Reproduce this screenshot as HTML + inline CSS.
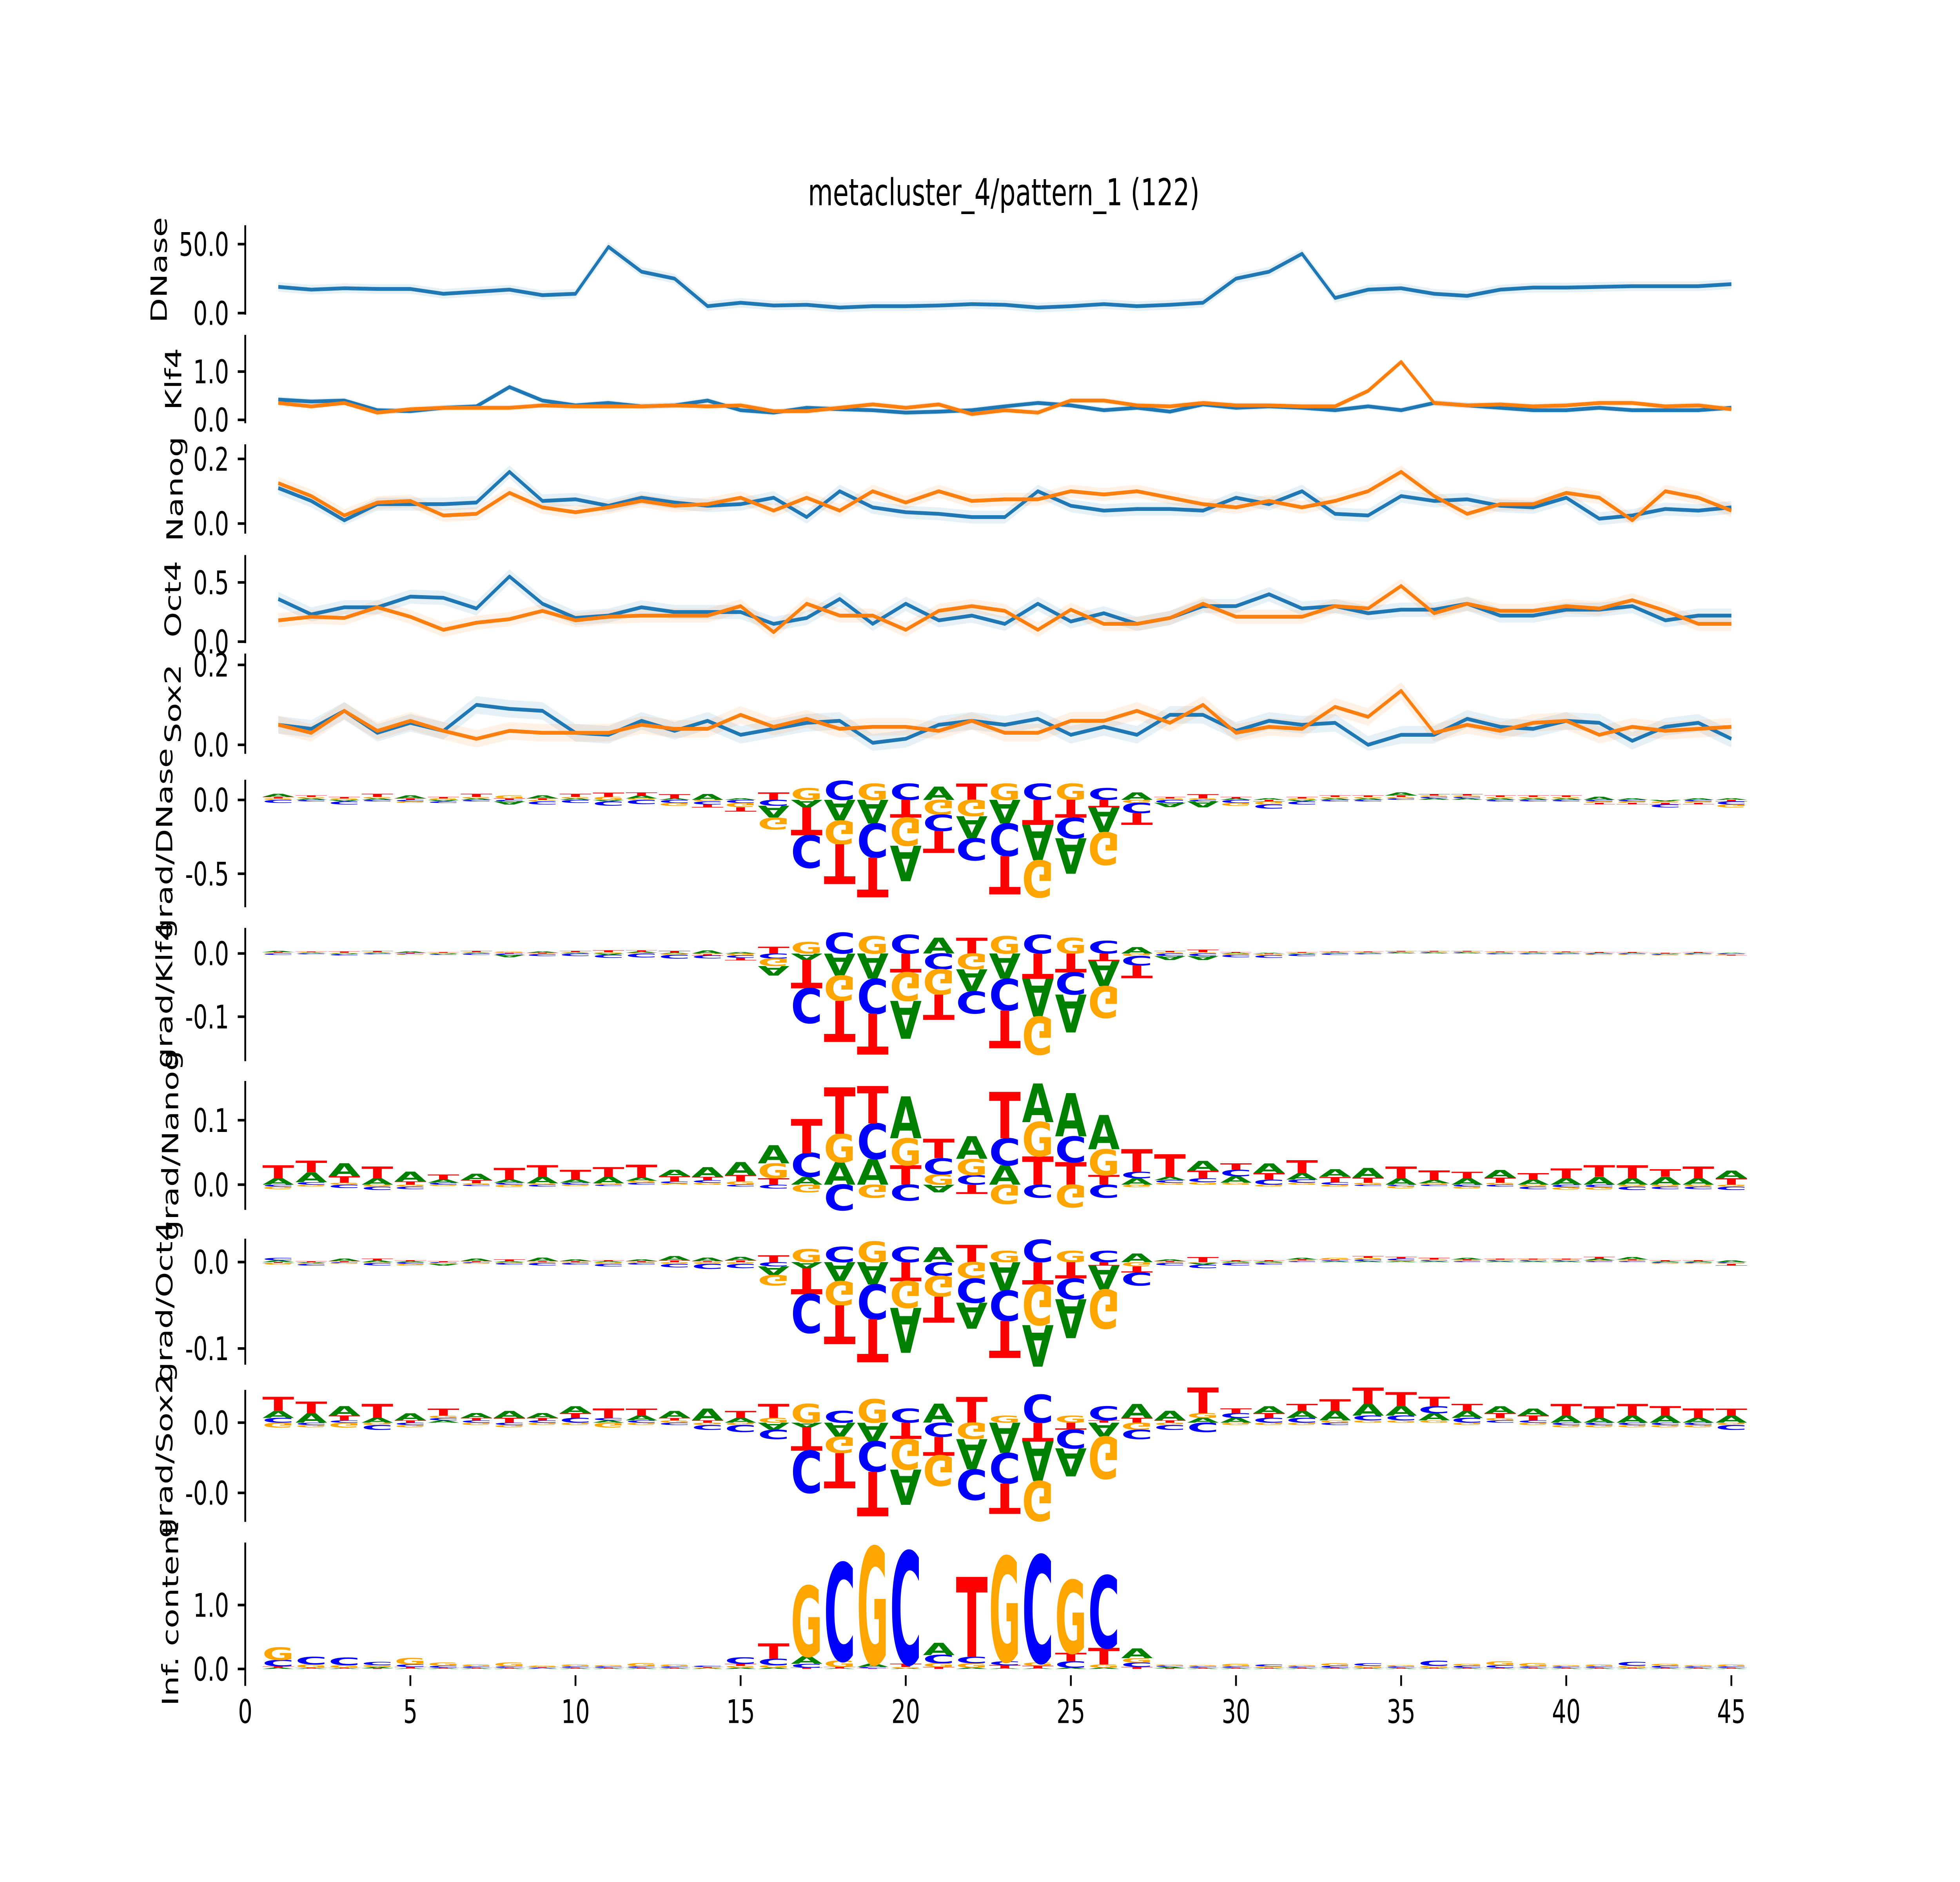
<!DOCTYPE html>
<html><head><meta charset="utf-8">
<style>
html,body{margin:0;padding:0;background:#fff;width:100%;height:100%;overflow:hidden;}
svg#fig{display:block;position:fixed;left:0;top:0;width:100vw;height:100vh;}
text{font-family:"DejaVu Sans","Liberation Sans",sans-serif;}
</style></head>
<body>
<svg id="fig" xmlns="http://www.w3.org/2000/svg" viewBox="0 0 1568 1045.33" preserveAspectRatio="none">
<rect x="0" y="0" width="1568" height="1045.33" fill="#fff"/>
<text x="803" y="114" font-size="20.5" text-anchor="middle">metacluster_4/pattern_1 (122)</text>
</svg>
<script>
// ---------- track data (positions 1..45) ----------
const positions = [1,2,3,4,5,6,7,8,9,10,11,12,13,14,15,16,17,18,19,20,21,22,23,24,25,26,27,28,29,30,31,32,33,34,35,36,37,38,39,40,41,42,43,44,45];
const dnaseBlue = [19,17,18,17.5,17.5,14,15.5,17,13,14,48,30,25,5,7.5,5.5,6,4,5,5,5.5,6.5,6,4,5,6.5,5,6,7.5,25,30,43,11,17,18,14,12.5,17,18.5,18.5,19,19.5,19.5,19.5,21];
const klf4Blue = [0.42,0.38,0.40,0.2,0.18,0.25,0.28,0.68,0.4,0.3,0.35,0.28,0.3,0.4,0.2,0.15,0.25,0.22,0.2,0.15,0.17,0.2,0.28,0.35,0.3,0.2,0.25,0.17,0.32,0.25,0.28,0.25,0.2,0.28,0.2,0.35,0.3,0.25,0.2,0.2,0.25,0.2,0.2,0.2,0.25];
const klf4Orange = [0.35,0.28,0.35,0.15,0.22,0.25,0.25,0.25,0.3,0.28,0.28,0.28,0.3,0.28,0.3,0.18,0.18,0.25,0.32,0.25,0.32,0.12,0.2,0.15,0.4,0.4,0.3,0.28,0.35,0.3,0.3,0.28,0.28,0.6,1.2,0.35,0.3,0.32,0.28,0.3,0.35,0.35,0.28,0.3,0.22];
const nanogBlue = [0.11,0.07,0.01,0.06,0.06,0.06,0.065,0.16,0.07,0.075,0.055,0.08,0.065,0.055,0.06,0.08,0.02,0.1,0.05,0.035,0.03,0.02,0.02,0.1,0.055,0.04,0.045,0.045,0.04,0.08,0.06,0.1,0.03,0.025,0.085,0.07,0.075,0.055,0.05,0.08,0.015,0.025,0.045,0.04,0.05];
const nanogOrange = [0.125,0.085,0.025,0.065,0.07,0.025,0.03,0.095,0.05,0.035,0.05,0.07,0.055,0.06,0.08,0.04,0.08,0.04,0.1,0.065,0.1,0.07,0.075,0.075,0.1,0.09,0.1,0.08,0.06,0.05,0.07,0.05,0.07,0.1,0.16,0.085,0.03,0.06,0.06,0.095,0.08,0.01,0.1,0.08,0.04];
const oct4Blue = [0.36,0.23,0.29,0.29,0.38,0.37,0.28,0.55,0.32,0.2,0.22,0.29,0.25,0.25,0.25,0.15,0.2,0.36,0.15,0.32,0.18,0.22,0.15,0.32,0.17,0.24,0.15,0.2,0.3,0.3,0.4,0.28,0.3,0.24,0.27,0.27,0.32,0.22,0.22,0.27,0.27,0.3,0.18,0.22,0.22];
const oct4Orange = [0.18,0.21,0.2,0.29,0.21,0.1,0.16,0.19,0.26,0.18,0.21,0.22,0.22,0.22,0.3,0.08,0.32,0.22,0.22,0.1,0.26,0.3,0.26,0.1,0.27,0.15,0.15,0.2,0.32,0.21,0.21,0.21,0.3,0.28,0.47,0.24,0.32,0.26,0.26,0.3,0.28,0.35,0.26,0.15,0.15];
const sox2Blue = [0.05,0.04,0.085,0.03,0.055,0.035,0.1,0.09,0.085,0.03,0.025,0.06,0.035,0.06,0.025,0.04,0.055,0.06,0.005,0.015,0.05,0.06,0.05,0.065,0.025,0.045,0.025,0.075,0.075,0.035,0.06,0.05,0.055,0.0,0.025,0.025,0.065,0.045,0.04,0.06,0.055,0.01,0.045,0.055,0.015];
const sox2Orange = [0.05,0.03,0.085,0.035,0.06,0.035,0.015,0.035,0.03,0.03,0.03,0.05,0.04,0.04,0.075,0.045,0.065,0.04,0.045,0.045,0.035,0.06,0.03,0.03,0.06,0.06,0.085,0.055,0.1,0.03,0.045,0.04,0.095,0.07,0.135,0.03,0.05,0.035,0.055,0.06,0.025,0.045,0.035,0.04,0.045];
const bandHalf = [3.5,0.06,0.02,0.06,0.022];

// ---------- logo data ----------
const dnaseA = [0.02,0.01,-0.01,0.01,0.02,-0.01,0.01,-0.02,0.02,0.01,-0.01,0.02,0.01,0.04,0.01,-0.08,-0.05,-0.14,-0.16,-0.24,0.09,-0.15,-0.16,-0.24,-0.24,-0.17,0.05,-0.03,-0.04,0.01,0.01,-0.01,0.01,0.01,0.02,0.01,0.01,0.01,0.01,0.01,0.02,0.01,-0.01,0.01,0.01];
const dnaseC = [-0.02,-0.01,-0.02,-0.01,-0.01,-0.01,-0.01,-0.01,-0.02,-0.02,-0.03,-0.03,-0.02,-0.02,-0.02,-0.04,-0.22,0.13,-0.23,0.11,-0.11,-0.15,-0.22,0.11,-0.14,0.08,-0.07,-0.02,-0.01,-0.02,-0.03,-0.02,-0.01,-0.01,0.01,0.01,0.01,-0.01,-0.01,-0.01,-0.01,-0.01,-0.02,-0.01,-0.02];
const dnaseG = [0.01,0.01,0.01,0.01,-0.01,0.01,0.01,0.02,-0.01,0.01,0.02,0.01,-0.02,-0.01,-0.03,-0.08,0.08,-0.16,0.11,-0.19,-0.1,-0.11,0.11,-0.25,0.11,-0.22,-0.02,0.01,0.01,-0.02,-0.02,0.01,0.01,0.01,0.01,0.01,0.01,0.01,0.01,0.01,-0.01,-0.01,-0.01,-0.01,-0.02];
const dnaseT = [0.01,0.01,0.01,0.02,0.01,0.01,0.02,0.01,0.01,0.02,0.03,0.02,0.03,-0.02,-0.03,0.05,-0.19,-0.27,-0.27,-0.12,-0.15,0.11,-0.26,-0.17,-0.12,-0.05,-0.08,0.01,0.03,0.01,-0.01,0.01,0.01,0.01,0.01,0.01,0.01,0.01,0.01,0.01,-0.01,-0.01,-0.01,-0.01,-0.01];

const klf4A = [0.002,0.001,-0.001,0.001,0.002,-0.001,0.001,-0.004,0.002,0.001,-0.002,0.002,0.001,0.005,0.002,-0.015,-0.01,-0.035,-0.04,-0.06,0.025,-0.035,-0.04,-0.06,-0.06,-0.04,0.01,-0.006,-0.006,0.001,0.001,-0.001,0.001,0.001,0.001,0.001,0.001,0.001,0.001,0.001,0.001,0.001,-0.001,0.001,0.001];
const klf4C = [-0.002,-0.001,-0.002,-0.001,-0.001,-0.001,-0.002,-0.002,-0.003,-0.004,-0.005,-0.006,-0.006,-0.005,-0.004,-0.008,-0.055,0.033,-0.055,0.03,-0.025,-0.035,-0.05,0.03,-0.035,0.02,-0.015,-0.004,-0.004,-0.004,-0.004,-0.003,-0.002,-0.001,0.001,0.001,0.001,-0.001,-0.001,-0.001,-0.001,-0.001,-0.001,-0.001,-0.001];
const klf4G = [0.001,0.001,0.001,0.001,-0.001,0.001,0.001,0.002,-0.001,0.001,0.002,0.001,-0.002,-0.001,-0.003,-0.012,0.018,-0.04,0.028,-0.045,-0.04,-0.025,0.028,-0.06,0.025,-0.05,-0.004,0.002,0.002,-0.002,-0.002,0.001,0.001,0.001,0.001,0.001,0.001,0.001,0.001,0.001,-0.001,-0.001,-0.001,-0.001,-0.001];
const klf4T = [0.001,0.001,0.002,0.002,0.001,0.001,0.002,0.001,0.001,0.002,0.003,0.002,0.003,-0.002,-0.004,0.011,-0.045,-0.065,-0.065,-0.03,-0.04,0.025,-0.06,-0.04,-0.03,-0.012,-0.02,0.002,0.004,0.001,-0.001,0.001,0.001,0.001,0.001,0.001,0.001,0.001,0.001,0.001,0.001,0.001,0.001,0.001,-0.001];

const nanogA = [0.01,0.015,0.02,0.01,0.015,0.005,0.01,0.005,0.01,0.005,0.01,0.005,0.01,0.015,0.02,0.028,0.012,0.035,0.04,0.065,-0.012,0.035,0.03,0.06,0.067,0.053,0.01,0.005,0.015,0.01,0.015,0.01,0.012,0.015,0.01,0.005,0.01,0.012,0.008,0.01,0.012,0.01,0.012,0.01,0.012];
const nanogC = [-0.003,0.004,-0.005,-0.005,-0.004,0.003,-0.002,0.003,-0.003,0.003,-0.002,0.003,0.003,0.004,-0.003,-0.006,0.037,-0.04,0.055,-0.025,0.025,0.015,0.042,-0.02,0.04,-0.02,0.01,0.004,0.006,0.01,0.008,0.005,0.004,-0.002,-0.002,-0.002,-0.003,-0.003,-0.004,-0.004,-0.004,-0.005,-0.004,-0.004,-0.005];
const nanogG = [-0.004,-0.003,0.003,-0.003,-0.003,-0.002,0.002,-0.004,0.002,-0.002,0.002,0.003,0.002,0.003,0.005,0.023,-0.012,0.044,-0.02,0.042,0.016,0.025,-0.03,0.053,-0.035,0.04,-0.004,0.003,0.004,0.003,-0.003,0.003,-0.003,0.003,-0.004,0.002,-0.003,0.003,-0.003,-0.004,-0.004,-0.003,-0.003,-0.003,-0.003];
const nanogT = [0.02,0.018,0.01,0.018,0.005,0.008,0.005,0.018,0.018,0.015,0.015,0.02,0.008,0.005,0.01,0.01,0.053,0.072,0.058,0.03,0.03,-0.014,0.072,0.044,0.035,0.015,0.035,0.035,0.012,0.01,0.01,0.02,0.008,0.008,0.018,0.015,0.01,0.008,0.01,0.015,0.018,0.02,0.012,0.018,0.01];

const oct4A = [0.002,-0.001,0.003,0.002,0.001,-0.002,0.003,0.001,0.004,0.002,0.001,0.002,0.005,0.004,0.004,-0.01,-0.007,-0.022,-0.026,-0.052,0.017,-0.03,-0.033,-0.048,-0.045,-0.028,0.01,0.002,-0.002,0.001,0.001,0.002,0.001,0.001,0.001,0.001,0.002,0.001,0.001,0.001,0.002,0.003,0.001,0.001,0.002];
const oct4C = [0.003,-0.002,-0.001,-0.003,-0.002,-0.001,-0.001,-0.002,-0.003,-0.002,-0.003,-0.002,-0.004,-0.006,-0.005,-0.005,-0.045,0.018,-0.04,0.018,-0.016,-0.028,-0.035,0.026,-0.024,0.013,-0.015,-0.003,-0.004,-0.003,-0.002,0.001,0.001,0.002,0.002,0.001,0.001,0.001,0.001,0.001,0.001,0.001,-0.001,-0.001,-0.001];
const oct4G = [-0.002,-0.001,-0.001,-0.001,-0.002,-0.001,-0.001,-0.001,-0.001,-0.001,-0.002,-0.001,-0.002,-0.002,-0.002,-0.012,0.015,-0.028,0.024,-0.031,-0.024,-0.019,0.013,-0.047,0.013,-0.045,-0.005,-0.001,-0.001,-0.001,-0.001,0.001,0.002,0.002,0.001,0.001,0.001,0.001,0.001,0.001,0.001,0.001,-0.001,-0.001,-0.001];
const oct4T = [-0.001,0.001,0.001,0.002,0.001,0.001,0.001,0.002,0.001,0.001,0.001,0.001,0.002,0.001,0.002,0.008,-0.03,-0.045,-0.05,-0.022,-0.03,0.02,-0.043,-0.026,-0.019,-0.004,-0.007,0.001,0.006,0.001,0.001,0.001,0.001,0.002,0.002,0.002,0.001,0.001,0.001,0.001,0.002,0.001,0.001,0.001,-0.002];

const sox2A = [0.003,0.004,0.004,0.002,0.003,0.001,0.002,0.003,0.002,0.003,0.001,0.002,0.003,0.005,0.002,-0.003,-0.002,-0.006,-0.008,-0.015,0.008,-0.013,-0.013,-0.017,-0.012,-0.006,0.006,0.004,0.002,0.002,0.003,0.003,0.004,0.005,0.004,0.003,0.003,0.003,0.003,0.003,0.002,0.003,0.003,0.002,0.003];
const sox2C = [0.002,-0.001,0.001,-0.002,-0.001,0.001,0.001,-0.001,0.001,0.002,0.001,0.001,-0.001,-0.002,-0.003,-0.004,-0.018,0.005,-0.013,0.006,-0.006,-0.013,-0.013,0.012,-0.008,0.006,-0.004,-0.002,-0.004,0.002,0.002,0.002,-0.001,0.002,0.002,0.003,0.002,0.001,0.001,-0.001,-0.001,-0.001,-0.001,-0.001,-0.002];
const sox2G = [-0.002,-0.001,-0.002,-0.001,-0.001,0.001,-0.001,-0.001,-0.001,-0.001,-0.002,-0.001,0.001,-0.001,-0.001,0.002,0.008,-0.007,0.01,-0.013,-0.013,-0.007,0.003,-0.017,0.003,-0.018,-0.003,-0.001,0.002,-0.001,-0.001,-0.001,0.001,0.001,0.001,0.001,-0.001,0.001,-0.001,-0.001,-0.001,-0.001,-0.001,-0.001,-0.001];
const sox2T = [0.006,0.005,0.002,0.006,0.001,0.003,0.001,0.002,0.001,0.002,0.004,0.003,0.001,0.001,0.003,0.006,-0.01,-0.015,-0.019,-0.007,-0.008,0.011,-0.013,-0.008,-0.003,0.001,0.002,0.001,0.011,0.002,0.002,0.003,0.005,0.007,0.006,0.004,0.003,0.002,0.002,0.005,0.005,0.005,0.004,0.004,0.003];

const icA = [0.02,0.01,0.01,0.02,0.01,0.01,0.01,0.01,0.01,0.01,0.01,0.01,0.01,0.01,0.02,0.02,0.12,0.01,0.05,0.01,0.19,0.02,0.01,0.01,0.02,0.02,0.15,0.02,0.01,0.01,0.01,0.01,0.01,0.01,0.01,0.01,0.01,0.01,0.01,0.01,0.01,0.01,0.01,0.01,0.01];
const icC = [0.1,0.12,0.12,0.05,0.04,0.03,0.02,0.02,0.01,0.02,0.02,0.02,0.02,0.02,0.1,0.1,0.06,1.53,0.02,1.76,0.13,0.1,0.06,1.68,0.1,1.13,0.07,0.02,0.02,0.02,0.03,0.02,0.03,0.04,0.02,0.08,0.03,0.04,0.02,0.02,0.02,0.06,0.03,0.02,0.02];
const icG = [0.2,0.05,0.04,0.03,0.1,0.05,0.03,0.06,0.02,0.03,0.02,0.05,0.03,0.01,0.03,0.04,1.1,0.1,1.83,0.02,0.06,0.07,1.64,0.05,1.14,0.05,0.07,0.02,0.02,0.04,0.02,0.02,0.04,0.03,0.02,0.03,0.03,0.06,0.05,0.02,0.03,0.03,0.03,0.02,0.03];
const icT = [0.02,0.01,0.01,0.01,0.02,0.01,0.01,0.01,0.01,0.01,0.01,0.01,0.01,0.01,0.03,0.24,0.02,0.02,0.01,0.05,0.03,1.25,0.05,0.04,0.13,0.26,0.03,0.01,0.01,0.01,0.01,0.01,0.01,0.01,0.01,0.01,0.01,0.01,0.01,0.01,0.01,0.01,0.01,0.01,0.01];

const xTicks = [0,5,10,15,20,25,30,35,40,45];

// ---------- layout ----------
const NS = "http://www.w3.org/2000/svg";
const svg = document.getElementById('fig');
const X0 = 196.2, XU = 26.42;
function xs(v){ return X0 + XU * v; }
function mk(tag, attrs, parent){
  const e = document.createElementNS(NS, tag);
  for (const k in attrs) e.setAttribute(k, attrs[k]);
  (parent || svg).appendChild(e);
  return e;
}
const BLUE = "#1f77b4", ORANGE = "#ff7f0e";
const LETTER_COL = {A:"#008000", C:"#0000ff", G:"#ffa500", T:"#ff0000"};

function axis(p){
  const g = mk('g', {});
  
  
  const sp = mk('line', {x1:X0, x2:X0, y1:p.top, y2:p.bot, stroke:'#000', 'stroke-width':1.45}, g);
  
  
  p.ticks.forEach((t, i) => {
    const y = p.y0 - p.k * t;
    const tl = mk('line', {x1:X0-6, x2:X0, y1:y, y2:y, stroke:'#000', 'stroke-width':1.45}, g);
    
    
    const tx = mk('text', {x:X0-13, y:y+6.5, 'font-size':18, 'text-anchor':'end'}, g);
    tx.textContent = p.labels[i];
    
    
  });
  const cy = (p.top + p.bot) / 2;
  const lab = mk('text', {x:0, y:0, 'font-size':18, 'text-anchor':'middle', transform:'translate(' + (p.lx + 6.5) + ',' + cy + ') rotate(-90)'}, g);
  lab.textContent = p.title;
  
  
  return g;
}

function trackPanel(p, series){
  const g = axis(p);
  series.forEach((s) => {
    const vals = s.vals;
    const hw = p.band;
    let up = '', dn = '';
    vals.forEach((v, i) => {
      up += (i ? 'L' : 'M') + xs(positions[i]).toFixed(2) + ',' + (p.y0 - p.k * (v + hw)).toFixed(2);
    });
    for (let i = vals.length - 1; i >= 0; i--) {
      dn += 'L' + xs(positions[i]).toFixed(2) + ',' + (p.y0 - p.k * Math.max(vals[i] - hw, p.floor)).toFixed(2);
    }
    const band = mk('path', {d: up + dn + 'Z', fill: s.col, 'fill-opacity': 0.11, stroke: 'none'}, g);
    
    
  });
  series.forEach((s) => {
    let d = '';
    s.vals.forEach((v, i) => {
      d += (i ? 'L' : 'M') + xs(positions[i]).toFixed(2) + ',' + (p.y0 - p.k * v).toFixed(2);
    });
    const ln = mk('path', {d: d, fill: 'none', stroke: s.col, 'stroke-width': 2.1, 'stroke-linejoin': 'round'}, g);
    
    
  });
}

function drawLetter(g, ch, xl, ybase, hpx, neg, pname){
  if (hpx < 0.25) return;
  const w = XU * 0.96;
  const sy = hpx / 72.9;
  const t = mk('text', {x:0, y:0, 'font-size':100, 'font-weight':'bold', 'font-family':'"Liberation Sans","DejaVu Sans",sans-serif',
    textLength: w, lengthAdjust:'spacingAndGlyphs', fill: LETTER_COL[ch],
    transform: 'translate(' + xl.toFixed(2) + ',' + ybase.toFixed(2) + ') scale(1,' + (neg ? -sy : sy).toFixed(4) + ')'}, g);
  t.textContent = ch;
  
  
}

function logoPanel(p, A, C, G, T){
  const g = axis(p);
  const letters = ['A','C','G','T'];
  const arrs = [A, C, G, T];
  for (let i = 0; i < positions.length; i++) {
    const xl = xs(positions[i]) - XU * 0.48;
    const items = letters.map((L, j) => ({L: L, v: arrs[j][i]}));
    const pos = items.filter(o => o.v > 0).sort((a, b) => a.v - b.v);
    const neg = items.filter(o => o.v < 0).sort((a, b) => b.v - a.v);
    let yb = p.y0;
    pos.forEach(o => { const h = o.v * p.k; drawLetter(g, o.L, xl, yb, h, false, p.name); yb -= h; });
    yb = p.y0;
    neg.forEach(o => { const h = -o.v * p.k; drawLetter(g, o.L, xl, yb, h, true, p.name); yb += h; });
  }
}

trackPanel({name:'dnase', title:'DNase', y0:173.9, k:0.766, top:125.1, bot:174.8, ticks:[0,50], labels:['0.0','50.0'], lx:127, band:bandHalf[0], floor:-1},
  [{id:'blue', col:BLUE, vals:dnaseBlue}]);
trackPanel({name:'klf4', title:'Klf4', y0:233.2, k:26.8, top:186, bot:235.1, ticks:[0,1], labels:['0.0','1.0'], lx:138.5, band:bandHalf[1], floor:0},
  [{id:'blue', col:BLUE, vals:klf4Blue},{id:'orange', col:ORANGE, vals:klf4Orange}]);
trackPanel({name:'nanog', title:'Nanog', y0:290.8, k:179.5, top:246.8, bot:296.4, ticks:[0,0.2], labels:['0.0','0.2'], lx:139.6, band:bandHalf[2], floor:-0.005},
  [{id:'blue', col:BLUE, vals:nanogBlue},{id:'orange', col:ORANGE, vals:nanogOrange}]);
trackPanel({name:'oct4', title:'Oct4', y0:356.4, k:65.8, top:308.3, bot:357.2, ticks:[0,0.5], labels:['0.0','0.5'], lx:138, band:bandHalf[3], floor:0.02},
  [{id:'blue', col:BLUE, vals:oct4Blue},{id:'orange', col:ORANGE, vals:oct4Orange}]);
trackPanel({name:'sox2', title:'Sox2', y0:413.7, k:222, top:363, bot:418.7, ticks:[0,0.2], labels:['0.0','0.2'], lx:138, band:bandHalf[4], floor:-0.015},
  [{id:'blue', col:BLUE, vals:sox2Blue},{id:'orange', col:ORANGE, vals:sox2Orange}]);

logoPanel({name:'grad-dnase', title:'grad/DNase', y0:444.3, k:82, top:433.1, bot:503.9, ticks:[0,-0.5], labels:['0.0','-0.5'], lx:131.4}, dnaseA, dnaseC, dnaseG, dnaseT);
logoPanel({name:'grad-klf4', title:'grad/Klf4', y0:529.6, k:351, top:515.4, bot:589.4, ticks:[0,-0.1], labels:['0.0','-0.1'], lx:131.4}, klf4A, klf4C, klf4G, klf4T);
logoPanel({name:'grad-nanog', title:'grad/Nanog', y0:658, k:358, top:600.4, bot:672, ticks:[0,0.1], labels:['0.0','0.1'], lx:136}, nanogA, nanogC, nanogG, nanogT);
logoPanel({name:'grad-oct4', title:'grad/Oct4', y0:701, k:480, top:688, bot:758, ticks:[0,-0.1], labels:['0.0','-0.1'], lx:131.4}, oct4A, oct4C, oct4G, oct4T);
logoPanel({name:'grad-sox2', title:'grad/Sox2', y0:790.2, k:1300, top:772, bot:845.3, ticks:[0,-0.03], labels:['0.0','-0.0'], lx:131.4}, sox2A, sox2C, sox2G, sox2T);
logoPanel({name:'info-content', title:'Inf. content', y0:927, k:35.5, top:856.8, bot:936.2, ticks:[0,1], labels:['0.0','1.0'], lx:136}, icA, icC, icG, icT);

const xg = mk('g', {});


xTicks.forEach(v => {
  const tl = mk('line', {x1:xs(v), x2:xs(v), y1:930.5, y2:936.4, stroke:'#000', 'stroke-width':1.45}, xg);
  
  
  const tx = mk('text', {x:xs(v), y:957, 'font-size':18, 'text-anchor':'middle'}, xg);
  tx.textContent = String(v);
  
  
});
</script>
</body></html>
